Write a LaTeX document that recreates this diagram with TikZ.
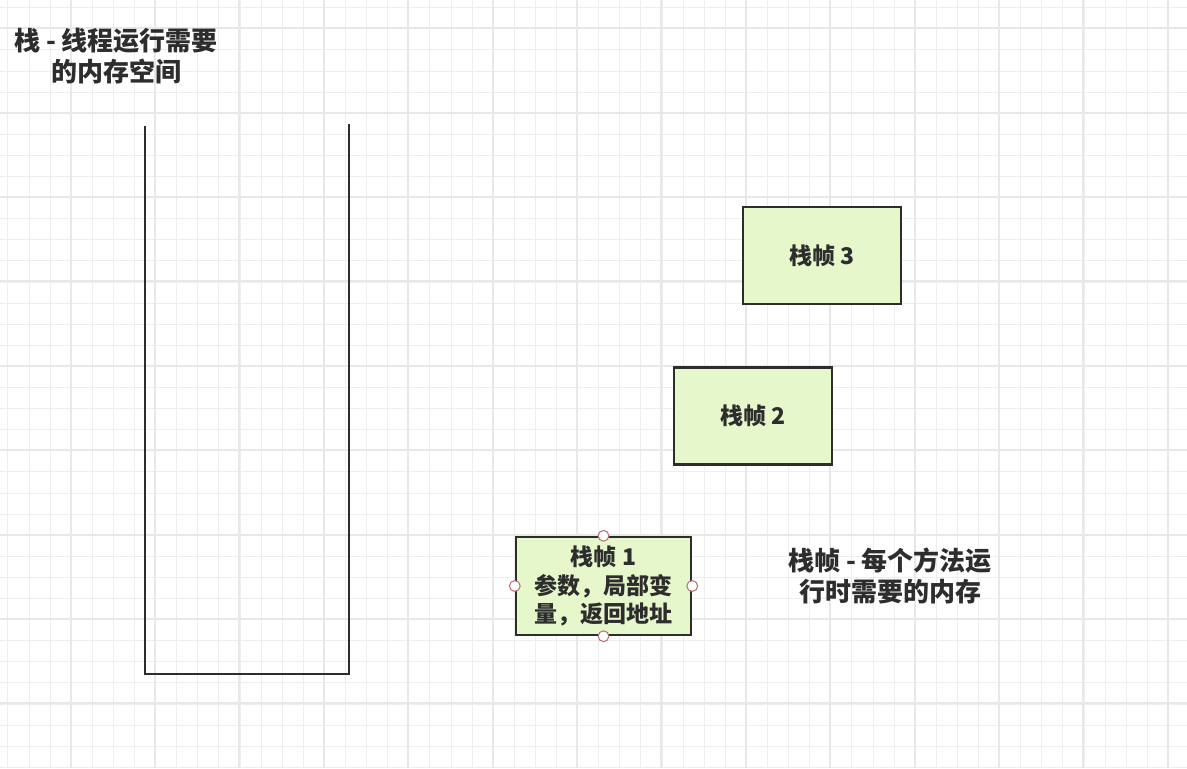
\documentclass[tikz,border=0pt]{standalone}
\usepackage{fontspec}
\setmainfont{Noto Sans CJK SC}
\definecolor{GridClr}{RGB}{238,238,238}
\definecolor{MajorClr}{RGB}{232,232,232}
\definecolor{LineClr}{RGB}{45,45,45}
\definecolor{FrameFillClr}{RGB}{230,247,204}
\definecolor{HandleClr}{RGB}{180,110,110}

\begin{document}
\begin{tikzpicture}[x=0.5pt,y=-0.5pt,
  frame/.style={draw=LineClr,line width=1.2pt,fill=FrameFillClr,minimum width=79pt,minimum height=48.5pt,inner sep=0pt,
    font=\fontsize{11.5}{14.25}\selectfont\bfseries,text=LineClr,align=center},
  note/.style={inner sep=0pt,font=\fontsize{13}{15.5}\selectfont\bfseries,text=LineClr,align=center},
  handle/.style={draw=HandleClr,fill=white,line width=0.5pt}]
\useasboundingbox (0,0) rectangle (1187,768);
\fill[white] (0,0) rectangle (1187,768);

\foreach \i in {0,...,56} \draw[GridClr,line width=0.5pt] ({round(7.4+21.1*\i)+0.5},0) -- ({round(7.4+21.1*\i)+0.5},768);
\foreach \j in {0,...,36} \draw[GridClr,line width=0.5pt] (0,{round(7.2+21.1*\j)+0.5}) -- (1187,{round(7.2+21.1*\j)+0.5});
\foreach \i in {0,...,13} \draw[MajorClr,line width=1pt] ({round(70.7+84.4*\i)},0) -- ({round(70.7+84.4*\i)},768);
\foreach \j in {0,...,8} \draw[MajorClr,line width=1pt] (0,{round(28.3+84.4*\j)}) -- (1187,{round(28.3+84.4*\j)});

\coordinate (stackTL) at (145,126);
\coordinate (stackBL) at (145,674);
\coordinate (stackBR) at (349,674);
\coordinate (stackTR) at (349,124);
\draw[LineClr,line width=1.2pt] (stackTL) -- (stackBL) -- (stackBR) -- (stackTR);

\node[note] (stackNote) at (116,56.5) {栈 - 线程运行需要\\的内存空间};
\node[note] (frameNote) at (890,575.5) {栈帧 - 每个方法运\\行时需要的内存};

\node[frame] (frame3) at (822,255.5) {栈帧 3};
\node[frame] (frame2) at (753,416) {栈帧 2};
\node[frame,minimum width=87.5pt,minimum height=49pt] (frame1) at (603.5,586) {栈帧 1\\参数，局部变\\量，返回地址};

\foreach \a in {north,south,east,west}
  \draw[handle] (frame1.\a) circle (2.7pt);

\end{tikzpicture}
\end{document}
